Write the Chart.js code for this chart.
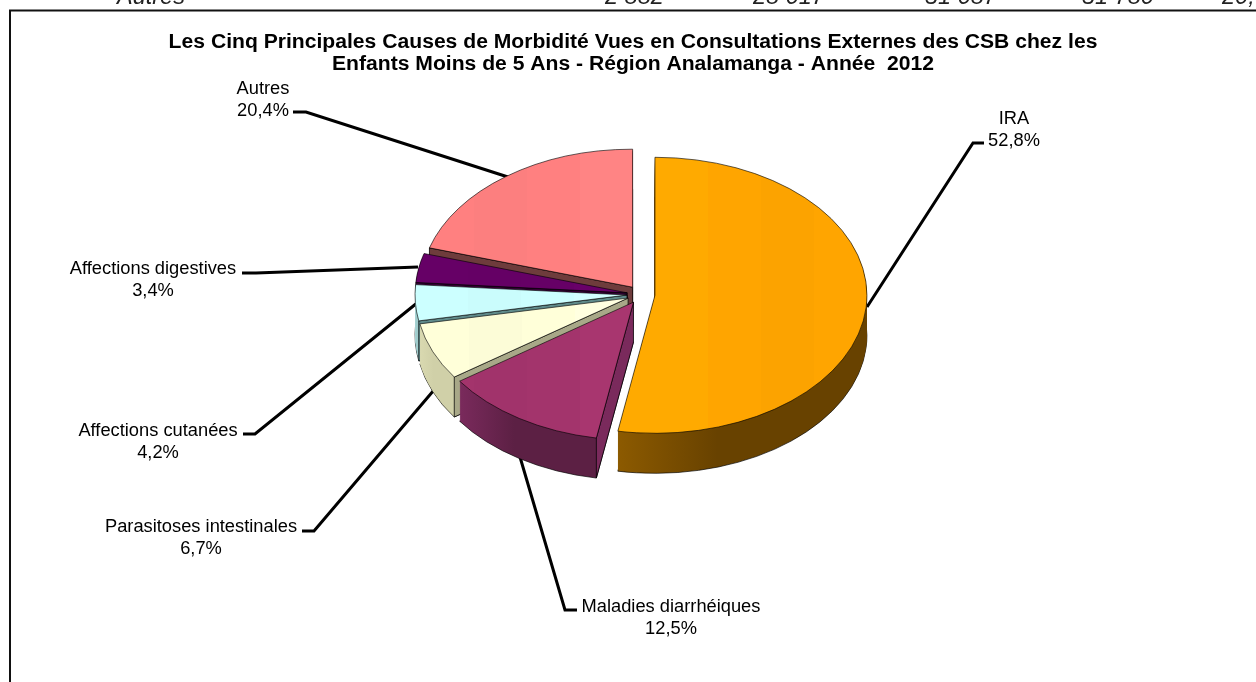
<!DOCTYPE html>
<html lang="fr">
<head>
<meta charset="utf-8">
<title>Morbidité Analamanga 2012</title>
<script src="https://cdn.jsdelivr.net/npm/chart.js@4"></script>
<style>
  html, body { margin: 0; padding: 0; background: #fff; overflow: hidden; }
  canvas { display: block; }
</style>
</head>
<body>
<canvas id="grafico" width="1256" height="682"></canvas>
<script>
const titleLines = [
  "Les Cinq Principales Causes de Morbidité Vues en Consultations Externes des CSB chez les",
  "Enfants Moins de 5 Ans - Région Analamanga - Année  2012"
];
const categories = ["IRA", "Maladies diarrhéiques", "Parasitoses intestinales", "Affections cutanées", "Affections digestives", "Autres"];
const shares = [52.8, 12.5, 6.7, 4.2, 3.4, 20.4];

// the row of the table above the chart, cut by the top of the page
const tableRow = ["Autres", "2 882", "28 017", "51 087", "51 780", "20,"];

const faceColors = ["#ffa500", "#a3346c", "#ffffd9", "#ccffff", "#660066", "#ff8080"];
const wallLight = ["#8c5a00", "#7a2a5c", "#d9d9b0", "#a8d4d4", "#4d004d", "#8c4d4d"];
const wallDark = ["#684200", "#5c2044", "#d0d0a8", "#a0cccc", "#330033", "#703c3c"];
const cutColors = ["#6b4400", "#7a2a5c", "#a8a888", "#5f8a8a", "#330033", "#6e3c3c"];

// layout, in page pixels
const pie = { x: 641, y: 294.5, radius: 212, squash: 0.651, depth: 40, explode: 14 };
const titleStretch = { centre: 633, factor: 1.056 };
const tableRowX = [117, 605, 753, 925, 1082, 1222];
const labelSpots = [
  { x: 1014, y: 119 }, { x: 671, y: 607 }, { x: 201, y: 527 },
  { x: 158, y: 431 }, { x: 153, y: 269 }, { x: 263, y: 89 }
];
const leaders = [
  [[984, 143], [973, 143], [867, 307]],
  [[577, 610], [565, 610], [520, 457]],
  [[302, 531], [314, 531], [434, 390]],
  [[243, 434], [255, 434], [417, 303]],
  [[242, 273], [256, 273], [418, 267]],
  [[293, 112], [306, 112], [508, 177]]
];
const bandShades = [1, 0.99, 1, 1.03, 1.03, 1, 0.99, 1];

function shade(hex, f) {
  const n = parseInt(hex.slice(1), 16);
  const c = [n >> 16, (n >> 8) & 255, n & 255].map(v => Math.min(255, Math.round(v * f)));
  return `rgb(${c[0]}, ${c[1]}, ${c[2]})`;
}

function sliceOffset(arc) {
  const mid = (arc.startAngle + arc.endAngle) / 2;
  return { dx: Math.cos(mid) * pie.explode, dy: Math.sin(mid) * pie.explode };
}

// draws the library's arc element flattened and moved down by d
function drawArc(ctx, arc, fill, border, d) {
  const { dx, dy } = sliceOffset(arc);
  const saved = arc.options;
  arc.options = Object.assign({}, saved, {
    backgroundColor: fill,
    borderColor: border || "rgba(0,0,0,0)",
    borderWidth: border ? 1 : 0
  });
  ctx.save();
  ctx.translate(pie.x + dx, pie.y + dy * pie.squash + d);
  ctx.scale(1, pie.squash);
  ctx.translate(-arc.x, -arc.y);
  arc.draw(ctx);
  ctx.restore();
  arc.options = saved;
}

function faceFill(ctx, arc, hex) {
  const x0 = arc.x - arc.outerRadius;
  const w = arc.outerRadius * 2;
  const g = ctx.createLinearGradient(x0, 0, x0 + w, 0);
  bandShades.forEach((f, i) => {
    g.addColorStop(i / bandShades.length, shade(hex, f));
    g.addColorStop((i + 1) / bandShades.length, shade(hex, f));
  });
  return g;
}

function wallFill(ctx, arc, light, dark) {
  let minX = Infinity, maxX = -Infinity;
  for (let i = 0; i <= 40; i++) {
    const a = arc.startAngle + (arc.endAngle - arc.startAngle) * i / 40;
    const x = arc.x + Math.cos(a) * arc.outerRadius;
    minX = Math.min(minX, x);
    maxX = Math.max(maxX, x);
  }
  const g = ctx.createLinearGradient(minX, 0, maxX, 0);
  g.addColorStop(0, light);
  g.addColorStop(0.4, dark);
  g.addColorStop(1, dark);
  return g;
}

function drawStartCut(ctx, arc, color) {
  const { dx, dy } = sliceOffset(arc);
  const ax = pie.x + dx;
  const ay = pie.y + dy * pie.squash;
  const rx = ax + Math.cos(arc.startAngle) * arc.outerRadius;
  const ry = ay + Math.sin(arc.startAngle) * arc.outerRadius * pie.squash;
  ctx.beginPath();
  ctx.moveTo(ax, ay);
  ctx.lineTo(rx, ry);
  ctx.lineTo(rx, ry + pie.depth);
  ctx.lineTo(ax, ay + pie.depth);
  ctx.closePath();
  ctx.fillStyle = color;
  ctx.fill();
  ctx.lineWidth = 1;
  ctx.strokeStyle = "rgba(0,0,0,0.75)";
  ctx.stroke();
}

const pie3d = {
  id: "pie3d",
  beforeDraw(chart) {
    const ctx = chart.ctx;
    ctx.save();
    ctx.fillStyle = "#fff";
    ctx.fillRect(0, 0, chart.width, chart.height);
    ctx.lineWidth = 2;
    ctx.strokeStyle = "#111";
    ctx.strokeRect(10, 10.5, chart.width + 20, chart.height + 20);
    ctx.fillStyle = "#222";
    ctx.font = "italic 23.5px 'Liberation Sans'";
    ctx.textBaseline = "alphabetic";
    tableRow.forEach((t, i) => ctx.fillText(t, tableRowX[i], 4));
    ctx.restore();

    // the title in the reference is wider than the font, stretched until beforeDatasetsDraw
    ctx.save();
    ctx.translate(titleStretch.centre, 0);
    ctx.scale(titleStretch.factor, 1);
    ctx.translate(-titleStretch.centre, 0);
  },
  beforeDatasetsDraw(chart) {
    const ctx = chart.ctx;
    const arcs = chart.getDatasetMeta(0).data;
    ctx.restore();

    ctx.save();
    ctx.lineWidth = 3;
    ctx.strokeStyle = "#000";
    ctx.lineJoin = "miter";
    leaders.forEach(pts => {
      ctx.beginPath();
      pts.forEach((p, i) => i ? ctx.lineTo(p[0], p[1]) : ctx.moveTo(p[0], p[1]));
      ctx.stroke();
    });

    // back slices first, IRA last
    for (let i = arcs.length - 1; i >= 0; i--) {
      const arc = arcs[i];
      const wall = wallFill(ctx, arc, wallLight[i], wallDark[i]);
      drawArc(ctx, arc, wall, "rgba(0,0,0,0.8)", pie.depth);
      for (let d = pie.depth - 1; d >= 1; d--) drawArc(ctx, arc, wall, null, d);
      if (i > 0) drawStartCut(ctx, arc, cutColors[i]);
      drawArc(ctx, arc, faceFill(ctx, arc, faceColors[i]), "rgba(0,0,0,0.75)", 0);
    }

    // labels
    ctx.fillStyle = "#000";
    ctx.font = "18.3px 'Liberation Sans'";
    ctx.textAlign = "center";
    ctx.textBaseline = "middle";
    categories.forEach((name, i) => {
      const pct = shares[i].toFixed(1).replace(".", ",") + "%";
      ctx.fillText(name, labelSpots[i].x, labelSpots[i].y);
      ctx.fillText(pct, labelSpots[i].x, labelSpots[i].y + 22);
    });
    ctx.restore();
    return false;
  }
};

new Chart(document.getElementById("grafico"), {
  type: "pie",
  data: {
    labels: categories,
    datasets: [{ data: shares, backgroundColor: faceColors, borderWidth: 1 }]
  },
  options: {
    responsive: false,
    animation: false,
    radius: pie.radius,
    layout: { padding: { left: 10 } },
    plugins: {
      legend: { display: false },
      tooltip: { enabled: false },
      title: {
        display: true,
        text: titleLines,
        color: "#000",
        font: { family: "'Liberation Sans'", size: 20, weight: "bold", lineHeight: 1.1 },
        padding: { top: 31, bottom: 0 }
      }
    }
  },
  plugins: [pie3d]
});
</script>
</body>
</html>
